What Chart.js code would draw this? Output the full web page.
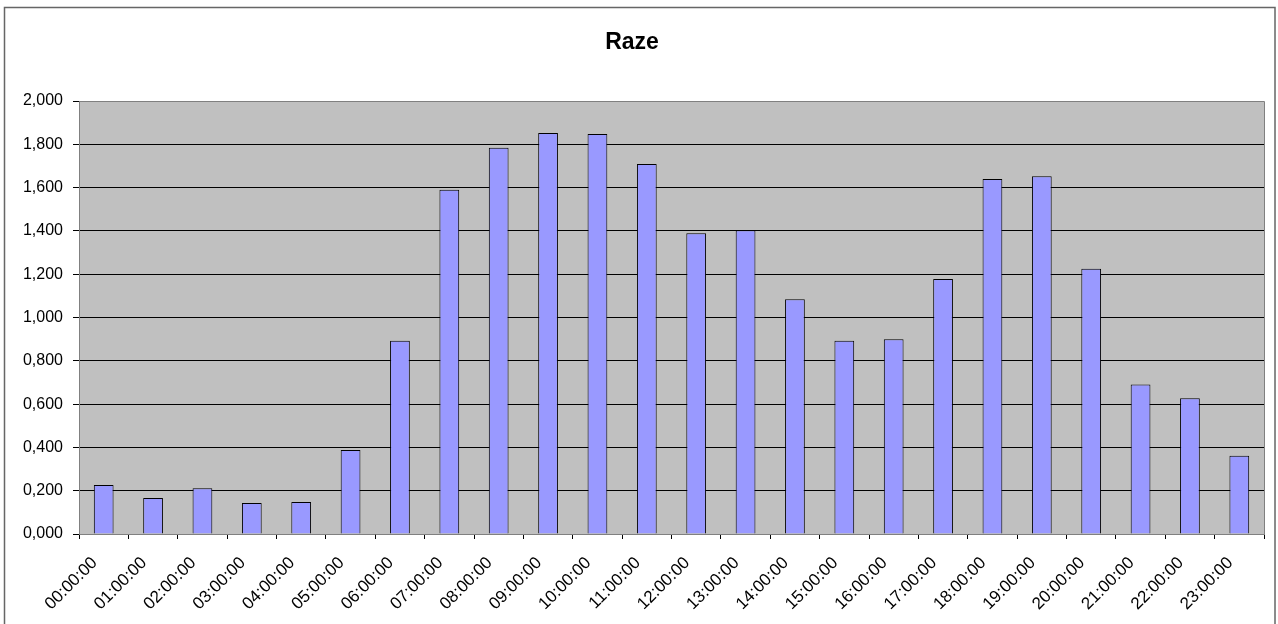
<!DOCTYPE html>
<html>
<head>
<meta charset="utf-8">
<script src="https://cdn.jsdelivr.net/npm/chart.js@4/dist/chart.umd.min.js"></script>
<style>
  html, body { margin: 0; padding: 0; background: #fff; }
  #wrap { width: 1278px; height: 624px; position: relative; }
</style>
</head>
<body>
<div id="wrap"><canvas id="c"></canvas></div>
<script>
const categories = ['00:00:00','01:00:00','02:00:00','03:00:00','04:00:00','05:00:00','06:00:00','07:00:00','08:00:00','09:00:00','10:00:00','11:00:00','12:00:00','13:00:00','14:00:00','15:00:00','16:00:00','17:00:00','18:00:00','19:00:00','20:00:00','21:00:00','22:00:00','23:00:00'];
const razeValues = [0.226, 0.166, 0.211, 0.143, 0.148, 0.388, 0.893, 1.590, 1.784, 1.852, 1.848, 1.709, 1.389, 1.403, 1.084, 0.893, 0.899, 1.178, 1.640, 1.652, 1.225, 0.691, 0.627, 0.362];
const yTickLabels = ['0,000','0,200','0,400','0,600','0,800','1,000','1,200','1,400','1,600','1,800','2,000'];
const chartTitle = 'Raze';

const frameAndBg = {
  id: 'frameAndBg',
  beforeDraw(chart) {
    const ctx = chart.ctx;
    const a = chart.chartArea;
    ctx.save();
    ctx.fillStyle = '#ffffff';
    ctx.fillRect(0, 0, chart.width, chart.height);
    ctx.strokeStyle = '#666666';
    ctx.lineWidth = 1.5;
    ctx.strokeRect(4.5, 7.5, 1270.5, 700);
    ctx.fillStyle = '#C0C0C0';
    ctx.fillRect(a.left, a.top, a.right - a.left, a.bottom - a.top);
    ctx.restore();
  },
  afterDraw(chart) {
    const ctx = chart.ctx;
    const a = chart.chartArea;
    ctx.save();
    ctx.strokeStyle = '#808080';
    ctx.lineWidth = 1;
    ctx.beginPath();
    ctx.moveTo(a.left, Math.round(a.top) + 0.5);
    ctx.lineTo(Math.round(a.right) + 0.5, Math.round(a.top) + 0.5);
    ctx.lineTo(Math.round(a.right) + 0.5, a.bottom);
    ctx.stroke();
    ctx.restore();
  }
};

new Chart(document.getElementById('c'), {
  type: 'bar',
  data: {
    labels: categories,
    datasets: [{
      label: chartTitle,
      data: razeValues,
      backgroundColor: '#9999FF',
      borderColor: '#000000',
      borderWidth: 1,
      barPercentage: 0.4,
      categoryPercentage: 1.0
    }]
  },
  options: {
    responsive: true,
    maintainAspectRatio: false,
    animation: false,
    devicePixelRatio: 1,
    layout: { padding: { left: 0, right: 14, top: 0, bottom: 0 } },
    plugins: {
      legend: { display: false },
      tooltip: { enabled: false },
      title: {
        display: true,
        text: chartTitle,
        color: '#000',
        font: { family: 'Liberation Sans, Arial, sans-serif', size: 23, weight: 'bold' },
        padding: { top: 29, bottom: 44.4 }
      }
    },
    scales: {
      x: {
        offset: true,
        grid: { display: true, drawOnChartArea: false, offset: true, tickLength: 5, color: '#000', tickColor: '#000' },
        border: { display: true, color: '#808080', width: 1 },
        ticks: {
          autoSkip: false,
          minRotation: 45,
          maxRotation: 45,
          padding: 14,
          labelOffset: -9,
          color: '#000',
          font: { family: 'Liberation Sans, Arial, sans-serif', size: 17 }
        },
        afterFit(scale) { scale.height = 90; }
      },
      y: {
        min: 0,
        max: 2,
        grid: {
          color: (c) => (c.tick && c.tick.value >= 2 ? '#808080' : '#000000'),
          tickColor: '#000',
          tickLength: 6,
          lineWidth: 1
        },
        border: { display: true, color: '#808080', width: 1 },
        ticks: {
          stepSize: 0.2,
          padding: 10,
          color: '#000',
          font: { family: 'Liberation Sans, Arial, sans-serif', size: 16 },
          callback: (v, i) => yTickLabels[i]
        },
        afterFit(scale) { scale.width = 79; }
      }
    }
  },
  plugins: [frameAndBg]
});
</script>
</body>
</html>
